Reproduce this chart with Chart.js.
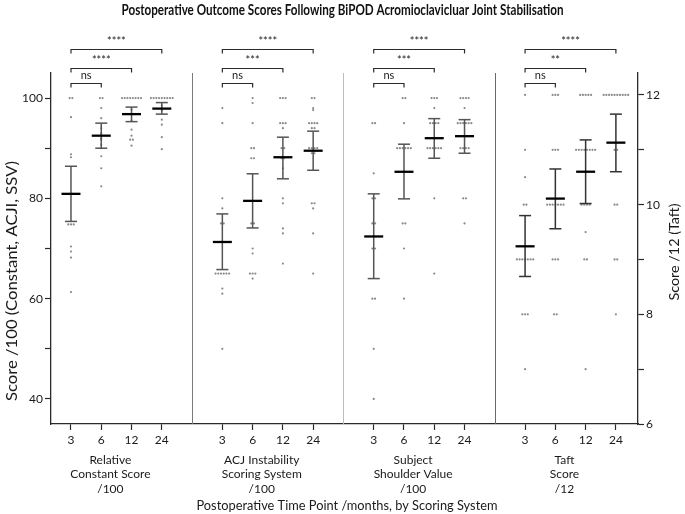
<!DOCTYPE html>
<html>
<head>
<meta charset="utf-8">
<script src="https://cdn.jsdelivr.net/npm/chart.js@4.4.0/dist/chart.umd.min.js"></script>
<style>
  html, body { margin: 0; padding: 0; background: #fff; }
  #wrap { width: 685px; height: 514px; }
</style>
</head>
<body>
<div id="wrap"><canvas id="outcomeChart" width="685" height="514"></canvas></div>
<script>
const timePoints = ['3', '6', '12', '24'];
const scoreNames = [
    ['Relative', 'Constant Score', '/100'],
    ['ACJ Instability', 'Scoring System', '/100'],
    ['Subject', 'Shoulder Value', '/100'],
    ['Taft', 'Score', '/12']
];
// 3 vs 6, 3 vs 12, 3 vs 24
const sigLabels = [
    ['ns', '****', '****'],
    ['ns', '***', '****'],
    ['ns', '***', '****'],
    ['ns', '**', '****']
];

// individual patient scores, one list per time point
const constantScores = [
    [100, 100, 96.2, 88.8, 88.2, 74.8, 74.8, 74.8, 70.4, 69.4, 68.2, 61.3],
    [100, 100, 98, 96, 94, 93, 92, 91.7, 90.7, 90, 88.4, 86, 82.4],
    [100, 100, 100, 100, 100, 100, 100, 100, 97.7, 95.5, 93.7, 92.5, 91.7, 91.7, 90.5],
    [100, 100, 100, 100, 100, 100, 100, 100, 100, 98.5, 97.5, 95.7, 94.7, 92.2, 89.8]
];
const acjiScores = [
    [98, 95, 80, 78, 75, 75, 65, 65, 65, 65, 65, 65, 62, 61, 50],
    [100, 99, 95, 90, 90, 88, 88, 75, 75, 70, 69, 65, 65, 65, 64],
    [100, 100, 100, 95, 95, 95, 94, 90, 90, 88, 88, 86, 80, 79, 74, 73, 67],
    [100, 100, 98, 97.6, 95, 95, 95, 95, 94, 94, 90, 90, 90, 90, 89, 89, 79, 79, 78, 73, 65]
];
const ssvScores = [
    [95, 95, 85, 80, 80, 75, 75, 70, 70, 60, 60, 50, 40],
    [100, 100, 95, 90, 90, 90, 90, 90, 90, 75, 75, 70, 60],
    [100, 100, 100, 98, 95, 95, 95, 95, 90, 90, 90, 90, 90, 90, 80, 65],
    [100, 100, 100, 100, 98, 95, 95, 95, 95, 95, 95, 90, 90, 90, 90, 80, 80, 75]
];
const taftScores = [
    [12, 11, 10.5, 10, 10, 9, 9, 9, 9, 9, 9, 9, 8, 8, 8, 7],
    [12, 12, 12, 11, 11, 11, 10, 10, 10, 10, 10, 10, 10, 9, 9, 9, 8, 8],
    [12, 12, 12, 12, 12, 11, 11, 11, 11, 11, 11, 11, 11, 10, 10, 10, 10, 9.5, 9, 9, 7],
    [12, 12, 12, 12, 12, 12, 12, 12, 12, 12, 11, 11, 10, 10, 9, 9, 8]
];

// mean with 95% CI
const constantMean = [80.9, 92.5, 96.8, 97.9];
const constantLower = [75.4, 90.0, 95.3, 96.8];
const constantUpper = [86.4, 95.0, 98.2, 99.1];
const acjiMean = [71.3, 79.5, 88.2, 89.5];
const acjiLower = [65.8, 74.1, 83.9, 85.6];
const acjiUpper = [76.9, 84.9, 92.2, 93.4];
const ssvMean = [72.4, 85.3, 92.0, 92.4];
const ssvLower = [64.0, 79.9, 88.0, 89.0];
const ssvUpper = [80.9, 90.8, 95.9, 95.7];
const taftMean = [9.24, 10.11, 10.6, 11.13];
const taftLower = [8.69, 9.56, 10.02, 10.6];
const taftUpper = [9.8, 10.65, 11.18, 11.65];

const FONT = 'Lato, "Open Sans", sans-serif';
const slot = (panel, i) => panel * 5 + i;

// spread tied scores sideways so every patient is visible
const spreadPoints = (groups, panel) => {
    const pts = [];
    groups.forEach((vals, i) => {
        const counts = {};
        vals.forEach(v => { counts[v] = (counts[v] || 0) + 1; });
        const seen = {};
        vals.forEach(v => {
            seen[v] = (seen[v] === undefined) ? 0 : seen[v] + 1;
            const off = (seen[v] - (counts[v] - 1) / 2) * 0.09;
            pts.push({ x: slot(panel, i) + off, y: v });
        });
    });
    return pts;
};

const ciSegments = (list) => {
    const pts = [];
    list.forEach(([panel, lower, upper]) => {
        lower.forEach((lo, i) => {
            pts.push({ x: slot(panel, i), y: lo }, { x: slot(panel, i), y: upper[i] }, { x: slot(panel, i), y: null });
        });
    });
    return pts;
};

const meanPoints = (list) => {
    const pts = [];
    list.forEach(([panel, means]) => {
        means.forEach((m, i) => pts.push({ x: slot(panel, i), y: m }));
    });
    return pts;
};

const leftPoints = [
    ...spreadPoints(constantScores, 0),
    ...spreadPoints(acjiScores, 1),
    ...spreadPoints(ssvScores, 2)
];
const taftPoints = spreadPoints(taftScores, 3);

const tickSlots = [];
for (let p = 0; p < 4; p++) for (let i = 0; i < 4; i++) tickSlots.push(slot(p, i));

// the original uses a narrow face, so squeeze/stretch long labels to its width
const fitText = (ctx, text, font, cx, cy, width, angle) => {
    ctx.save();
    ctx.font = font;
    ctx.translate(cx, cy);
    if (angle) ctx.rotate(angle);
    const w = ctx.measureText(text).width;
    ctx.scale(width / w, 1);
    ctx.fillText(text, 0, 0);
    ctx.restore();
};

const overlay = {
    id: 'overlay',
    afterDatasetsDraw(chart) {
        const { ctx, chartArea, scales } = chart;
        const x = scales.x, y = scales.y;
        ctx.save();

        // panel separators
        const sepColors = ['#7a7a7a', '#bdbdbd', '#6a6a6a'];
        [4, 9, 14].forEach((k, j) => {
            const px = Math.round(x.getPixelForValue(k)) + 0.5;
            ctx.strokeStyle = sepColors[j];
            ctx.lineWidth = 1;
            ctx.beginPath();
            ctx.moveTo(px, chartArea.top);
            ctx.lineTo(px, chartArea.bottom);
            ctx.stroke();
        });

        // significance brackets
        const levels = [103.05, 106.05, 109.8];
        ctx.font = '11px ' + FONT;
        ctx.textAlign = 'center';
        ctx.textBaseline = 'alphabetic';
        for (let p = 0; p < 4; p++) {
            levels.forEach((lv, j) => {
                const x1 = x.getPixelForValue(slot(p, 0));
                const x2 = x.getPixelForValue(slot(p, j + 1));
                const by = Math.round(y.getPixelForValue(lv)) + 0.5;
                ctx.strokeStyle = '#2b2b2b';
                ctx.lineWidth = 1.2;
                ctx.beginPath();
                ctx.moveTo(x1, by + 4);
                ctx.lineTo(x1, by);
                ctx.lineTo(x2, by);
                ctx.lineTo(x2, by + 4);
                ctx.stroke();
                ctx.fillStyle = '#222';
                ctx.fillText(sigLabels[p][j], (x1 + x2) / 2, by - 5);
            });
        }

        // title
        ctx.fillStyle = '#111';
        ctx.textBaseline = 'middle';
        fitText(ctx, 'Postoperative Outcome Scores Following BiPOD Acromioclavicluar Joint Stabilisation',
            'bold 14.5px ' + FONT, 342.5, 10, 442);

        // score names under each panel
        ctx.font = '12px ' + FONT;
        ctx.fillStyle = '#1a1a1a';
        scoreNames.forEach((lines, p) => {
            const cx = x.getPixelForValue(slot(p, 1.5)) - 6;
            lines.forEach((t, l) => ctx.fillText(t, cx, 460 + l * 14.5));
        });

        fitText(ctx, 'Postoperative Time Point /months, by Scoring System', '13.5px ' + FONT,
            347, 506, 301);

        // axis titles
        fitText(ctx, 'Score /100 (Constant, ACJI, SSV)', '15px ' + FONT, 12, 281, 240, -Math.PI / 2);
        fitText(ctx, 'Score /12 (Taft)', '13px ' + FONT, 675, 252, 97, -Math.PI / 2);

        ctx.restore();
    }
};

const tickFont = { family: FONT, size: 12 };
const axisColor = '#2a2a2a';

new Chart(document.getElementById('outcomeChart').getContext('2d'), {
    type: 'scatter',
    data: {
        datasets: [
            {
                data: meanPoints([[0, constantMean], [1, acjiMean], [2, ssvMean]]),
                yAxisID: 'y', pointStyle: 'line', pointRadius: 9.5,
                pointBorderWidth: 2.3, pointBorderColor: '#000', order: 0
            },
            {
                data: meanPoints([[3, taftMean]]),
                yAxisID: 'y2', pointStyle: 'line', pointRadius: 9.5,
                pointBorderWidth: 2.3, pointBorderColor: '#000', order: 0
            },
            {
                data: ciSegments([[0, constantLower, constantUpper], [1, acjiLower, acjiUpper], [2, ssvLower, ssvUpper]]),
                yAxisID: 'y', showLine: true, spanGaps: false,
                borderColor: '#555', borderWidth: 1.5,
                pointStyle: 'line', pointRadius: 6, pointBorderWidth: 1.5, pointBorderColor: '#555', order: 1
            },
            {
                data: ciSegments([[3, taftLower, taftUpper]]),
                yAxisID: 'y2', showLine: true, spanGaps: false,
                borderColor: '#333', borderWidth: 1.5,
                pointStyle: 'line', pointRadius: 6, pointBorderWidth: 1.5, pointBorderColor: '#333', order: 1
            },
            {
                data: leftPoints, yAxisID: 'y',
                pointRadius: 1.1, pointBorderWidth: 0, pointBackgroundColor: '#8a8a8a', order: 2
            },
            {
                data: taftPoints, yAxisID: 'y2',
                pointRadius: 1.1, pointBorderWidth: 0, pointBackgroundColor: '#8a8a8a', order: 2
            }
        ]
    },
    options: {
        responsive: false,
        animation: false,
        events: [],
        layout: { padding: { top: 73, left: 0, right: 0, bottom: 0 } },
        plugins: { legend: { display: false }, tooltip: { enabled: false } },
        scales: {
            x: {
                type: 'linear', min: -0.66, max: 18.73,
                afterBuildTicks: (s) => { s.ticks = tickSlots.map(v => ({ value: v })); },
                afterFit: (s) => { s.height = 90; },
                ticks: {
                    autoSkip: false, maxRotation: 0, padding: 3, color: '#1a1a1a', font: tickFont,
                    callback: (v) => timePoints[Math.round(v) % 5]
                },
                grid: { drawOnChartArea: false, drawTicks: true, tickLength: 6, color: axisColor, tickWidth: 1.2 },
                border: { color: axisColor, width: 1.3 }
            },
            y: {
                position: 'left', min: 35, max: 105,
                afterBuildTicks: (s) => { s.ticks = [40, 50, 60, 70, 80, 90, 100].map(v => ({ value: v })); },
                afterFit: (s) => { s.width = 51; },
                ticks: { padding: 2, color: '#1a1a1a', font: tickFont, callback: (v) => (v % 20 === 0 ? v : '') },
                grid: { drawOnChartArea: false, drawTicks: true, tickLength: 6, color: axisColor, tickWidth: 1.2 },
                border: { color: axisColor, width: 1.3 }
            },
            y2: {
                position: 'right', min: 6, max: 12.4,
                afterBuildTicks: (s) => { s.ticks = [6, 7, 8, 9, 10, 11, 12].map(v => ({ value: v })); },
                afterFit: (s) => { s.width = 47; },
                ticks: { padding: 2, color: '#1a1a1a', font: tickFont, callback: (v) => (v % 2 === 0 ? v : '') },
                grid: { drawOnChartArea: false, drawTicks: true, tickLength: 6, color: axisColor, tickWidth: 1.2 },
                border: { color: axisColor, width: 1.3 }
            }
        }
    },
    plugins: [overlay]
});
</script>
</body>
</html>
